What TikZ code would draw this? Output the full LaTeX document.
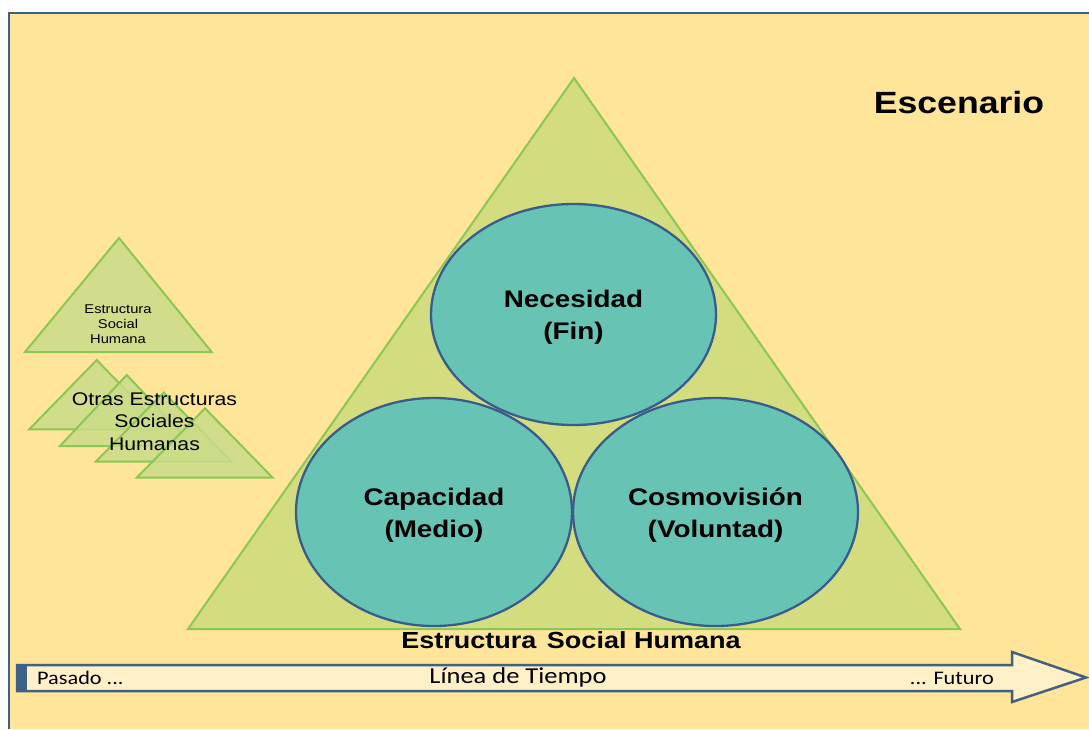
\documentclass[tikz,border=0pt]{standalone}
\usepackage{fontspec}
\setmainfont{Liberation Sans}[FakeStretch=1.16]
\newfontfamily\calfont{Carlito}[FakeStretch=1.16]
\usetikzlibrary{shapes.geometric}
\definecolor{bgyellow}{HTML}{FFE599}
\definecolor{framecol}{HTML}{3E5F86}
\definecolor{trifill}{HTML}{D3DC7E}
\definecolor{smalltri}{HTML}{C9DC88}
\definecolor{tristroke}{HTML}{8CC653}
\definecolor{ellfill}{HTML}{67C4B5}
\definecolor{ellstroke}{HTML}{3A5C8C}
\definecolor{arrowfill}{HTML}{FFF0C8}
\definecolor{arrowstroke}{HTML}{44607F}
\tikzset{
  bigtri/.style={fill=trifill, draw=tristroke, line width=2pt, line join=miter},
  smtri/.style={fill=smalltri, fill opacity=0.85, draw=tristroke, draw opacity=1, line width=2pt},
  ellnode/.style={ellipse, draw=ellstroke, fill=ellfill, line width=2.3pt, inner sep=0pt},
  elltext/.style={inner sep=0pt, text=black, align=center, font=\bfseries\fontsize{24}{32}\selectfont},
  lbl/.style={inner sep=0pt, text=black, align=center},
}
\begin{document}
\begin{tikzpicture}[x=1pt,y=-1pt]
\useasboundingbox (0,0) rectangle (1089,729);
\fill[white] (0,0) rectangle (1089,729);
% frame
\fill[bgyellow] (9,13) rectangle (1089,729);
\draw[framecol, line width=2.5pt] (9,729) -- (9,13) -- (1089,13);
% title
\node[lbl, font=\bfseries\fontsize{30.7}{36}\selectfont] (esc) at (959,103) {Escenario};
% big triangle
\draw[bigtri] (574,78) -- (960,629) -- (188,629) -- cycle;
% ellipses
\node[ellnode, minimum width=276pt, minimum height=228pt] (cap) at (434,512) {};
\node[ellnode, minimum width=285pt, minimum height=228pt] (cos) at (715.5,512) {};
\node[ellnode, minimum width=285pt, minimum height=221pt] (nec) at (573.5,314.5) {};
\node[elltext] (capT) at ([yshift=-3pt]cap.center) {Capacidad\\(Medio)};
\node[elltext] (cosT) at ([yshift=-3pt]cos.center) {Cosmovisión\\(Voluntad)};
\node[elltext] (necT) at ([yshift=-3pt]nec.center) {Necesidad\\(Fin)};
\node[lbl, font=\bfseries\fontsize{23.3}{28}\selectfont] (esh) at (571,640) {Estructura\hspace{3pt} Social Humana};
% small triangles
\draw[smtri] (119,238) -- (211.7,352) -- (25,352) -- cycle;
\node[lbl, font=\fontsize{12.7}{15}\selectfont] (esh2) at (118,324.5) {Estructura\\Social\\Humana};
\draw[smtri] (96.7,360) -- (164,429.3) -- (29.3,429.3) -- cycle;
\draw[smtri] (126.7,375) -- (194,446) -- (60,446) -- cycle;
\draw[smtri] (163.7,392.5) -- (231.7,461.7) -- (95.7,461.7) -- cycle;
\draw[smtri] (205,408.3) -- (272.7,477.7) -- (136.7,477.7) -- cycle;
\node[lbl, font=\fontsize{18.3}{22.5}\selectfont] (otras) at (154.5,421.5) {Otras Estructuras\\Sociales\\Humanas};
% time arrow
\draw[fill=arrowfill, draw=arrowstroke, line width=2.5pt, line join=miter]
  (17,665) -- (1012,665) -- (1012,652) -- (1086,677.5) -- (1012,702) -- (1012,691) -- (17,691) -- cycle;
\fill[framecol] (15.5,663.7) rectangle (27,692.3);
\node[lbl, font=\calfont\fontsize{22.8}{26}\selectfont] (linea) at (518,677.5) {Línea de Tiempo};
\node[lbl, anchor=west, font=\calfont\fontsize{19.2}{22}\selectfont] (pasado) at (37,678) {Pasado ...};
\node[lbl, anchor=east, font=\calfont\fontsize{19.2}{22}\selectfont] (futuro) at (994,678) {... Futuro};
\end{tikzpicture}
\end{document}
